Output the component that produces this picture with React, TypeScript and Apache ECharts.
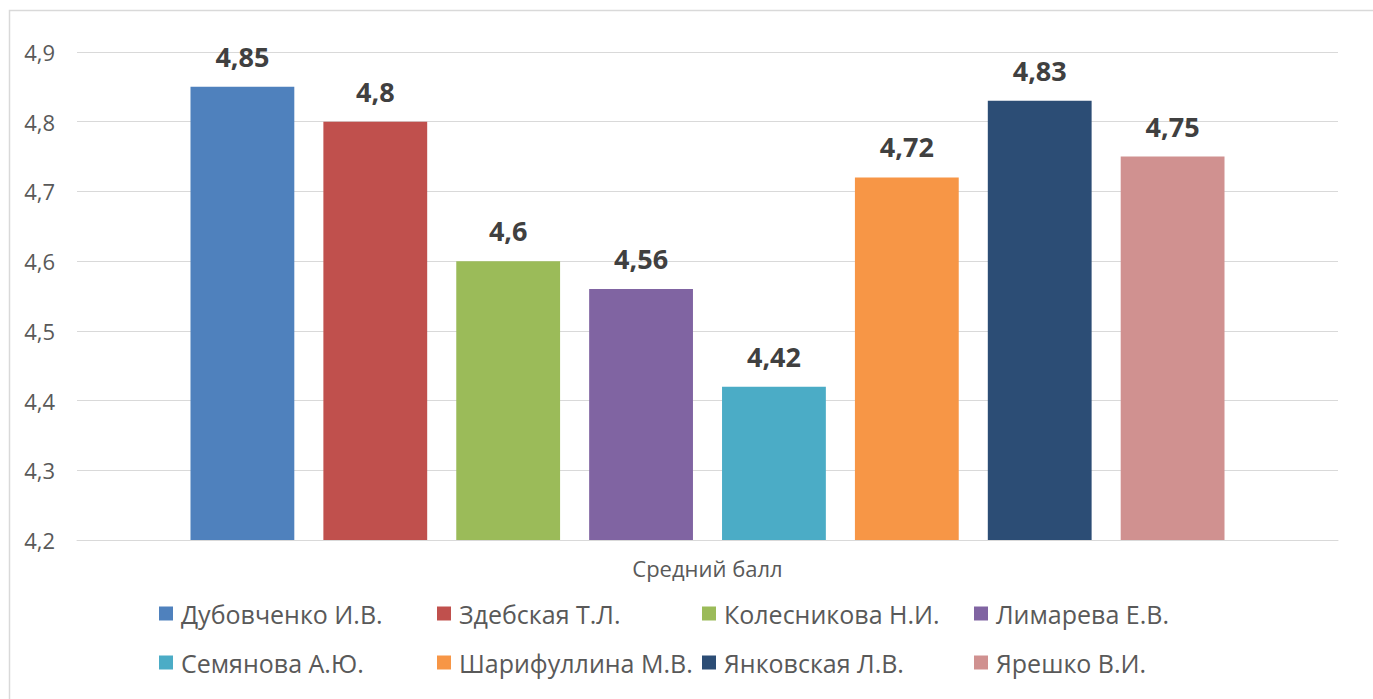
import React, { useEffect, useRef } from "react";
import * as echarts from "echarts";

const categories = ["Средний балл"];
const seriesNames = [
  "Дубовченко И.В.",
  "Здебская Т.Л.",
  "Колесникова Н.И.",
  "Лимарева Е.В.",
  "Семянова А.Ю.",
  "Шарифуллина М.В.",
  "Янковская Л.В.",
  "Ярешко В.И.",
];
const seriesValues = [4.85, 4.8, 4.6, 4.56, 4.42, 4.72, 4.83, 4.75];
const seriesColors = [
  "#4f81bd",
  "#c0504d",
  "#9bbb59",
  "#8064a2",
  "#4bacc6",
  "#f79646",
  "#2c4d75",
  "#d09190",
];
const yTicks = { min: 4.2, max: 4.9, interval: 0.1 };

const FONT = "'Open Sans', sans-serif";
const legendCols = [159, 437, 702, 974];
const legendRows = [601, 650];

export default function App() {
  const ref = useRef<HTMLDivElement>(null);
  useEffect(() => {
    if (!ref.current) return;
    const chart = echarts.init(ref.current, undefined, { renderer: "svg" });
    const legends = seriesNames.map((name, i) => ({
      data: [name],
      left: legendCols[i % 4],
      top: legendRows[Math.floor(i / 4)],
      icon: "rect",
      itemWidth: 14,
      itemHeight: 14,
      itemGap: 0,
      padding: 0,
      textStyle: { fontFamily: FONT, fontSize: 25, color: "#595959", padding: [0, 0, 0, 3] },
      selectedMode: false,
    }));
    chart.setOption({
      animation: false,
      backgroundColor: "#ffffff",
      textStyle: { fontFamily: FONT },
      graphic: [
        {
          type: "rect",
          shape: { x: 9.5, y: 10.5, width: 1400, height: 720 },
          style: { fill: "none", stroke: "#d9d9d9", lineWidth: 1.5 },
          silent: true,
          z: -1,
        },
      ],
      legend: legends,
      grid: { left: 77, right: 35, top: 52, bottom: 159, containLabel: false },
      xAxis: {
        type: "category",
        data: categories,
        axisLine: { show: true, lineStyle: { color: "#d9d9d9" } },
        axisTick: { show: false },
        axisLabel: { fontFamily: FONT, fontSize: 22, color: "#595959", margin: 17 },
      },
      yAxis: {
        type: "value",
        min: yTicks.min,
        max: yTicks.max,
        interval: yTicks.interval,
        axisLine: { show: false },
        axisTick: { show: false },
        splitLine: { lineStyle: { color: "#d9d9d9", width: 1 } },
        axisLabel: {
          fontFamily: FONT,
          fontSize: 22,
          color: "#595959",
          margin: 22,
          formatter: (v: number) => v.toFixed(1).replace(".", ","),
        },
      },
      series: seriesNames.map((name, i) => ({
        type: "bar",
        name,
        data: [seriesValues[i]],
        itemStyle: { color: seriesColors[i] },
        barGap: "28%",
        barCategoryGap: "18%",
        label: {
          show: true,
          position: "top",
          distance: 17,
          fontFamily: FONT,
          fontSize: 27,
          fontWeight: "bold",
          color: "#404040",
          formatter: (p: any) => String(p.value).replace(".", ","),
        },
      })),
    });
    return () => chart.dispose();
  }, []);
  return (
    <div
      ref={ref}
      style={{ position: "fixed", left: 0, top: 0, width: 1373, height: 699 }}
    />
  );
}
